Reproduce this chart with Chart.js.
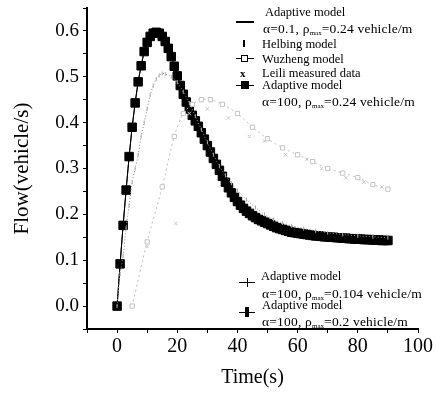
<!DOCTYPE html>
<html>
<head>
<meta charset="utf-8">
<script src="https://cdn.jsdelivr.net/npm/chart.js@4.4.0/dist/chart.umd.min.js"></script>
<style>
  body { margin: 0; background: #fff; }
  #wrap { position: relative; width: 438px; height: 404px; }
  .lg { position: absolute; font-family: 'Liberation Serif', serif; color: #000; white-space: nowrap; line-height: 14px; }
  .nm { font-size: 12.5px; }
  .fm { font-size: 13.5px; letter-spacing: 0.2px; }
  .fm sub { font-size: 7px; vertical-align: -2px; letter-spacing: 0; }
  .sym { position: absolute; background: #000; }
</style>
</head>
<body>
<div id="wrap">
  <canvas id="flowChart" width="438" height="404"></canvas>

  <!-- легенда вгорі -->
  <div class="sym" style="left:236px;top:21px;width:18px;height:2px"></div>
  <div class="lg nm" style="left:265px;top:5px">Adaptive model</div>
  <div class="lg fm" style="left:263px;top:22px">α=0.1, ρ<sub>max</sub>=0.24 vehicle/m</div>

  <div class="sym" style="left:243px;top:40px;width:2px;height:7px"></div>
  <div class="lg nm" style="left:262px;top:37px">Helbing model</div>

  <div class="sym" style="left:236px;top:58px;width:18px;height:1px"></div>
  <div class="sym" style="left:241px;top:55px;width:7px;height:7px;background:#fff;border:1px solid #000;box-sizing:border-box"></div>
  <div class="lg nm" style="left:262px;top:52px">Wuzheng model</div>

  <div class="lg nm" style="left:240px;top:66px;font-weight:bold;font-size:11px">x</div>
  <div class="lg nm" style="left:262px;top:66px">Leili measured data</div>

  <div class="sym" style="left:236px;top:85px;width:18px;height:1px"></div>
  <div class="sym" style="left:241px;top:81px;width:8px;height:8px"></div>
  <div class="lg nm" style="left:262px;top:78px">Adaptive model</div>
  <div class="lg fm" style="left:262px;top:95px">α=100, ρ<sub>max</sub>=0.24 vehicle/m</div>

  <!-- легенда внизу -->
  <div class="sym" style="left:239px;top:282px;width:16px;height:1px"></div>
  <div class="sym" style="left:247px;top:278px;width:1px;height:9px"></div>
  <div class="lg nm" style="left:261px;top:269px">Adaptive model</div>
  <div class="lg fm" style="left:262px;top:287px">α=100, ρ<sub>max</sub>=0.104 vehicle/m</div>

  <div class="sym" style="left:239px;top:312px;width:16px;height:1px"></div>
  <div class="sym" style="left:245px;top:307px;width:4px;height:10px"></div>
  <div class="lg nm" style="left:262px;top:298px">Adaptive model</div>
  <div class="lg fm" style="left:262px;top:315px">α=100, ρ<sub>max</sub>=0.2 vehicle/m</div>
</div>

<script>
// Час (с) для адаптивної моделі, крок 1 с
const adaptiveTime = [];
for (let t = 0; t <= 90; t++) adaptiveTime.push(t);

// Адаптивна модель α=100, ρmax=0.24 (чорні квадрати)
const adaptiveFlow = [
  0.000, 0.092, 0.176, 0.253, 0.326, 0.390, 0.443, 0.489, 0.524, 0.555,
  0.575, 0.588, 0.595, 0.597, 0.595, 0.588, 0.577, 0.562, 0.544, 0.523,
  0.502, 0.481, 0.462, 0.445, 0.430, 0.416, 0.404, 0.392, 0.378, 0.364,
  0.350, 0.336, 0.322, 0.309, 0.296, 0.283, 0.270, 0.258, 0.247, 0.237,
  0.228, 0.220, 0.213, 0.207, 0.202, 0.197, 0.193, 0.189, 0.186, 0.183,
  0.180, 0.177, 0.174, 0.171, 0.169, 0.167, 0.165, 0.163, 0.161, 0.160,
  0.159, 0.158, 0.157, 0.156, 0.155, 0.154, 0.153, 0.153, 0.152, 0.151,
  0.151, 0.150, 0.150, 0.149, 0.149, 0.148, 0.148, 0.147, 0.147, 0.146,
  0.146, 0.146, 0.145, 0.145, 0.145, 0.144, 0.144, 0.144, 0.143, 0.143,
  0.143
];

// Модель Helbing
const helbingTime = [0, 1, 2, 3, 4, 5, 6, 7, 8, 9, 10, 11, 12, 13, 14, 15, 16, 18, 20, 22, 24, 26, 28, 30,
  32, 34, 36, 38, 40, 43, 46, 49, 52, 55, 58, 62, 66, 70, 75, 80, 85, 90];
const helbingFlow = [0.0, 0.07, 0.11, 0.17, 0.22, 0.27, 0.30, 0.33, 0.37, 0.40, 0.43, 0.46, 0.48, 0.495,
  0.503, 0.507, 0.506, 0.500, 0.488, 0.467, 0.443, 0.414, 0.385, 0.357, 0.330, 0.305, 0.285, 0.268,
  0.252, 0.232, 0.215, 0.200, 0.189, 0.181, 0.175, 0.169, 0.164, 0.160, 0.156, 0.153, 0.151, 0.149];

// Модель Wuzheng
const wuzhengTime = [5, 10, 15, 19, 22, 25, 28, 31, 35, 40, 45, 50, 55, 60, 65, 70, 75, 80, 85, 90];
const wuzhengFlow = [0.0, 0.14, 0.26, 0.37, 0.42, 0.44, 0.45, 0.45, 0.44, 0.42, 0.39, 0.365, 0.345,
  0.33, 0.315, 0.30, 0.29, 0.28, 0.265, 0.255];

// Виміряні дані Leili
const leiliTime = [5, 10, 19.5, 24, 30, 37, 44, 49, 56, 63, 68, 76, 82, 88];
const leiliFlow = [0.0, 0.13, 0.18, 0.42, 0.43, 0.41, 0.37, 0.36, 0.33, 0.32, 0.30, 0.28, 0.27, 0.26];

const toPoints = (xs, ys) => xs.map((x, i) => ({ x: x, y: ys[i] }));

const serif = 'Liberation Serif';
const ctx = document.getElementById('flowChart').getContext('2d');
const flowChart = new Chart(ctx, {
  type: 'scatter',
  data: {
    datasets: [
      {
        label: 'Wuzheng model',
        data: toPoints(wuzhengTime, wuzhengFlow),
        showLine: true,
        borderColor: '#bdbdbd',
        borderWidth: 1,
        borderDash: [2, 3],
        pointStyle: 'rect',
        pointRadius: 3,
        pointBorderWidth: 1,
        pointBorderColor: '#c4c4c4',
        pointBackgroundColor: '#fff',
        tension: 0.3
      },
      {
        label: 'Leili measured data',
        data: toPoints(leiliTime, leiliFlow),
        showLine: false,
        pointStyle: 'crossRot',
        pointRadius: 2.5,
        pointBorderWidth: 1,
        pointBorderColor: '#c8c8c8'
      },
      {
        label: 'Helbing model',
        data: toPoints(helbingTime, helbingFlow),
        showLine: true,
        borderColor: '#8a8a8a',
        borderWidth: 1,
        borderDash: [1, 2],
        pointStyle: 'line',
        rotation: 90,
        pointRadius: 2,
        pointBorderWidth: 1,
        pointBorderColor: '#aaa',
        tension: 0.3
      },
      {
        label: 'Adaptive model α=0.1, ρmax=0.24 vehicle/m',
        data: toPoints(adaptiveTime, adaptiveFlow),
        showLine: true,
        borderColor: '#000',
        borderWidth: 1,
        pointRadius: 0,
        tension: 0.2
      },
      {
        label: 'Adaptive model α=100, ρmax=0.24 vehicle/m',
        data: toPoints(adaptiveTime, adaptiveFlow),
        showLine: true,
        borderColor: '#000',
        borderWidth: 1,
        pointStyle: 'rect',
        pointRadius: 6,
        pointBorderWidth: 1,
        pointBorderColor: '#000',
        pointBackgroundColor: '#000'
      }
    ]
  },
  options: {
    responsive: false,
    animation: false,
    layout: { padding: { left: 0, right: 20, top: 8, bottom: 0 } },
    plugins: {
      legend: { display: false },
      tooltip: { enabled: false }
    },
    scales: {
      x: {
        type: 'linear',
        min: -10,
        max: 100,
        afterFit: (scale) => { scale.height = 75; scale.paddingLeft = 0; scale.paddingRight = 0; },
        border: { display: true, color: '#000', width: 2 },
        grid: { drawOnChartArea: false, drawTicks: true, tickLength: 4, color: '#000', lineWidth: 1 },
        ticks: {
          stepSize: 10,
          autoSkip: false,
          maxRotation: 0,
          padding: 2,
          color: '#000',
          font: { family: serif, size: 20 },
          callback: (v) => (Math.round(v) % 20 === 0 ? String(Math.round(v)) : '')
        },
        title: {
          display: true,
          text: 'Time(s)',
          color: '#000',
          font: { family: serif, size: 20 },
          padding: { top: 0, bottom: 14 }
        }
      },
      y: {
        type: 'linear',
        min: -0.05,
        max: 0.65,
        afterFit: (scale) => { scale.width = 87; scale.paddingTop = 0; scale.paddingBottom = 0; },
        border: { display: true, color: '#000', width: 2 },
        grid: { drawOnChartArea: false, drawTicks: true, tickLength: 4, color: '#000', lineWidth: 1 },
        ticks: {
          stepSize: 0.05,
          autoSkip: false,
          padding: 4,
          color: '#000',
          font: { family: serif, size: 19 },
          callback: (v) => {
            const k = Math.round(v * 20);
            return (k % 2 === 0 && k >= 0 && k <= 12) ? (k / 20).toFixed(1) : '';
          }
        },
        title: {
          display: true,
          text: 'Flow(vehicle/s)',
          color: '#000',
          font: { family: serif, size: 21 },
          padding: { top: 10, bottom: 0 }
        }
      }
    }
  }
});
</script>
</body>
</html>
